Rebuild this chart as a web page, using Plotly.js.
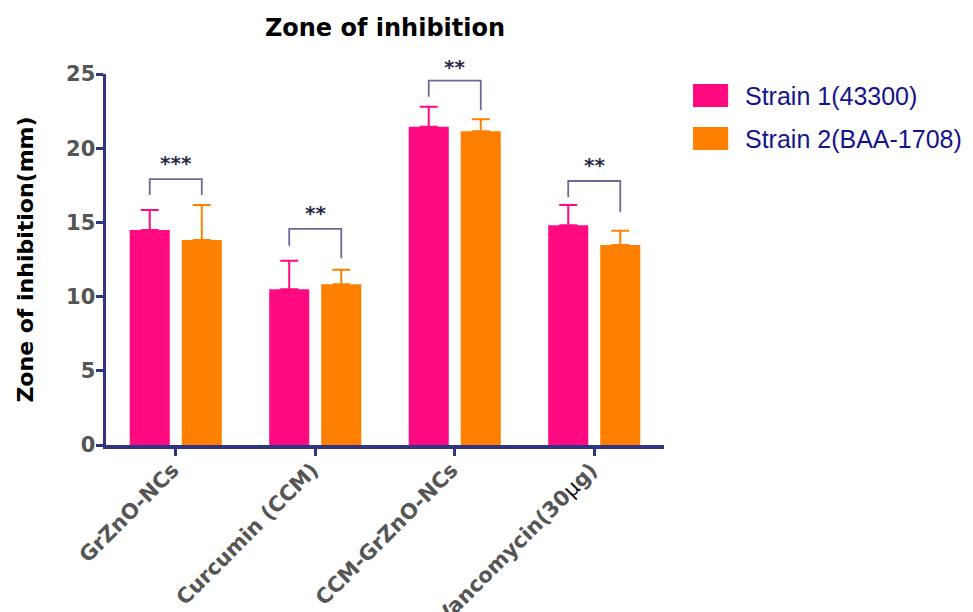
<!DOCTYPE html>
<html>
<head>
<meta charset="utf-8">
<script src="https://cdn.plot.ly/plotly-3.0.1.min.js"></script>
<style>html,body{margin:0;padding:0;background:#fff;}#chart{width:973px;height:612px;}</style>
</head>
<body>
<div id="chart"></div>
<script>
// ---- data ----
const categories = ["GrZnO-NCs", "Curcumin (CCM)", "CCM-GrZnO-NCs", "Vancomycin(30<span style='font-weight:normal;color:#111'>μ</span>g)"];
const seriesNames = ["Strain 1(43300)", "Strain 2(BAA-1708)"];
const strain1 = [14.49, 10.49, 21.45, 14.80];
const strain1Err = [1.35, 1.93, 1.35, 1.37];
const strain2 = [13.81, 10.83, 21.14, 13.48];
const strain2Err = [2.36, 0.98, 0.81, 0.96];
// significance brackets: left end, top, right end, label, label height
const bracketLeft = [16.85, 13.43, 23.47, 16.69];
const bracketTop = [17.92, 14.56, 24.55, 17.79];
const bracketRight = [16.85, 12.58, 22.57, 15.68];
const sigLabels = ["***", "**", "**", "**"];
const sigLabelY = [19.0, 15.65, 25.5, 18.85];
const yTicks = [0, 5, 10, 15, 20, 25];

const colors = ["#FF0A80", "#FF8000"];
const axisColor = "#2f3582";
const bargap = 0.254, bargroupgap = 0.23;
const half = (1 - bargap) / 4; // offset of bar centres from category centre
const yMax = yTicks[yTicks.length - 1];

const idx = categories.map((_, i) => i);

const traces = [
  {type: 'bar', x: idx, y: strain1, name: seriesNames[0], marker: {color: colors[0]},
   error_y: {type: 'data', symmetric: false, array: strain1Err, arrayminus: strain1Err.map(() => 0), color: colors[0], thickness: 2, width: 9},
   hoverinfo: 'y'},
  {type: 'bar', x: idx, y: strain2, name: seriesNames[1], marker: {color: colors[1]},
   error_y: {type: 'data', symmetric: false, array: strain2Err, arrayminus: strain2Err.map(() => 0), color: colors[1], thickness: 2, width: 9},
   hoverinfo: 'y'}
];

// bracket lines
const bx = [], by = [];
idx.forEach(i => {
  bx.push(i - half, i - half, i + half, i + half, null);
  by.push(bracketLeft[i], bracketTop[i], bracketTop[i], bracketRight[i], null);
});
traces.push({type: 'scatter', mode: 'lines', x: bx, y: by, line: {color: '#6a6a98', width: 1.8},
  cliponaxis: false, hoverinfo: 'skip', showlegend: false});

const shapes = [], annotations = [];
// significance stars (paper y so that labels above the axis top still show)
idx.forEach(i => {
  annotations.push({xref: 'x', yref: 'paper', x: i, y: sigLabelY[i] / yMax, showarrow: false,
    xanchor: 'center', yanchor: 'middle', text: '<b>' + sigLabels[i] + '</b>',
    font: {family: 'DejaVu Sans, sans-serif', size: 20, color: '#2a2a48'}});
});

// custom legend
const legTop = [0.973, 0.857], legH = 0.062;
seriesNames.forEach((n, k) => {
  shapes.push({type: 'rect', xref: 'paper', yref: 'paper', x0: 1.052, x1: 1.115,
    y0: legTop[k] - legH, y1: legTop[k], fillcolor: colors[k], line: {width: 0}});
  annotations.push({xref: 'paper', yref: 'paper', x: 1.1416, y: legTop[k] - legH / 2,
    xanchor: 'left', yanchor: 'middle', showarrow: false, text: n,
    font: {family: 'Liberation Sans, Arial, sans-serif', size: 25, color: '#14148c'}});
});

// y axis title
annotations.push({xref: 'paper', yref: 'paper', x: -0.145, y: 0.5, xanchor: 'center', yanchor: 'middle',
  textangle: -90, showarrow: false, text: '<b>Zone of inhibition(mm)</b>',
  font: {family: 'DejaVu Sans, sans-serif', size: 22, color: '#000'}});

const tickFont = {family: 'DejaVu Sans, sans-serif', size: 21, color: '#555555', weight: 'bold'};

const layout = {
  width: 973, height: 612,
  margin: {l: 106, r: 309, t: 74, b: 167},
  paper_bgcolor: '#fff', plot_bgcolor: '#fff',
  showlegend: false,
  barmode: 'group', bargap: bargap, bargroupgap: bargroupgap,
  title: {text: '<b>Zone of inhibition</b>', x: 0.5, xref: 'paper', y: 0.955, yanchor: 'middle',
    font: {family: 'DejaVu Sans, sans-serif', size: 24, color: '#000'}},
  xaxis: {range: [-0.5, 3.5], tickvals: idx, ticktext: categories.map(c => '<b>' + c + '</b>'),
    tickangle: -45, tickfont: tickFont, showgrid: false, zeroline: false,
    showline: true, linecolor: axisColor, linewidth: 3.5,
    ticks: 'outside', ticklen: 7, tickwidth: 3, tickcolor: axisColor, fixedrange: true,
    ticklabelshift: -3, ticklabelstandoff: -6},
  yaxis: {range: [0, yMax], tickvals: yTicks, tickfont: tickFont,
    tickprefix: '<b>', ticksuffix: '</b>', ticklabelstandoff: -4,
    showgrid: false, zeroline: false, showline: true, linecolor: axisColor, linewidth: 3.5,
    ticks: 'outside', ticklen: 7, tickwidth: 3, tickcolor: axisColor, fixedrange: true},
  shapes: shapes, annotations: annotations
};

Plotly.newPlot('chart', traces, layout, {displayModeBar: false, staticPlot: true});
</script>
</body>
</html>
